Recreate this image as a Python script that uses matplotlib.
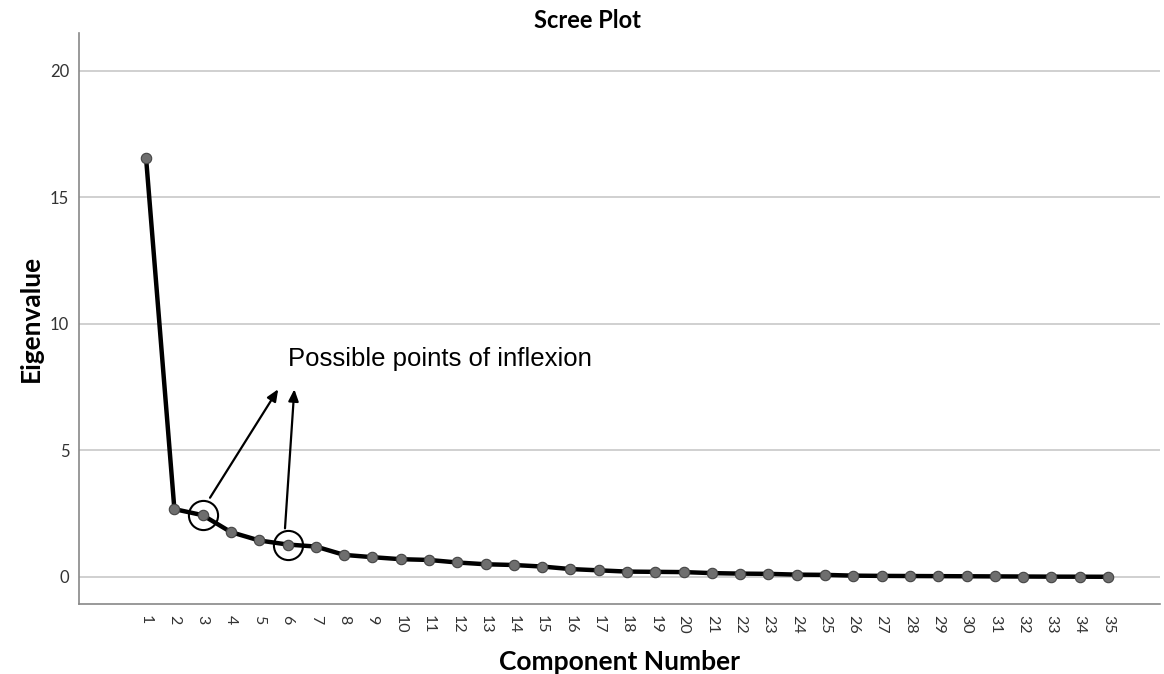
import numpy as np
import matplotlib.pyplot as plt

components = np.arange(1, 36)
eigenvalues = [16.55, 2.68, 2.44, 1.77, 1.44, 1.28, 1.20, 0.87, 0.78, 0.70,
               0.67, 0.57, 0.50, 0.47, 0.41, 0.31, 0.26, 0.21, 0.20, 0.19,
               0.15, 0.13, 0.12, 0.09, 0.08, 0.05, 0.04, 0.035, 0.03, 0.025,
               0.02, 0.015, 0.01, 0.008, 0.005]

# highlighted components and where the arrows point
circled = [3, 6]
arrow_tips = [(5.67, 7.42), (6.24, 7.42)]
arrow_tails = [(3.26, 3.13), (5.91, 1.92)]
note = "Possible points of inflexion"

plt.rcParams['font.family'] = ['Lato', 'DejaVu Sans']

fig = plt.figure(figsize=(11.64, 6.74), dpi=100)
ax = fig.add_axes([0.0679, 0.1039, 0.9287, 0.8471])

ax.plot(components, eigenvalues, color='black', lw=3.2, zorder=3,
        marker='o', markersize=7.5, markerfacecolor='#6e6e6e',
        markeredgecolor='#444444', markeredgewidth=0.8)

for c in circled:
    ax.plot(c, eigenvalues[c - 1], marker='o', markersize=21, markerfacecolor='none',
            markeredgecolor='black', markeredgewidth=1.5, zorder=4, linestyle='none')

for tail, tip in zip(arrow_tails, arrow_tips):
    ax.annotate('', xy=tip, xytext=tail,
                arrowprops=dict(arrowstyle='-|>,head_length=0.7,head_width=0.3',
                                color='black', lw=1.6, shrinkA=0, shrinkB=0))

ax.text(6.0, 8.6, note, fontsize=18.5, family='Liberation Sans', va='center', ha='left')

ax.set_xlim(-1.37, 36.84)
ax.set_ylim(-1.07, 21.5)
ax.set_yticks([0, 5, 10, 15, 20])
ax.set_xticks(components)
ax.set_xticklabels([str(c) for c in components], rotation=270, fontsize=11.5, color='#333333')
ax.tick_params(axis='y', labelsize=12, labelcolor='#333333', length=0, pad=7)
ax.tick_params(axis='x', length=0, pad=8)

ax.yaxis.grid(True, color='#c8c8c8', lw=1.2)
ax.set_axisbelow(True)
for s in ['top', 'right']:
    ax.spines[s].set_visible(False)
for s in ['left', 'bottom']:
    ax.spines[s].set_color('#888888')
    ax.spines[s].set_linewidth(1.2)

fig.text(0.505, 0.97, 'Scree Plot', fontsize=17, fontweight='bold', ha='center', va='center')
ax.set_ylabel('Eigenvalue', fontsize=19, fontweight='bold', labelpad=5)
ax.set_xlabel('Component Number', fontsize=19, fontweight='bold', labelpad=12)

fig.savefig('out.png', dpi=100)
